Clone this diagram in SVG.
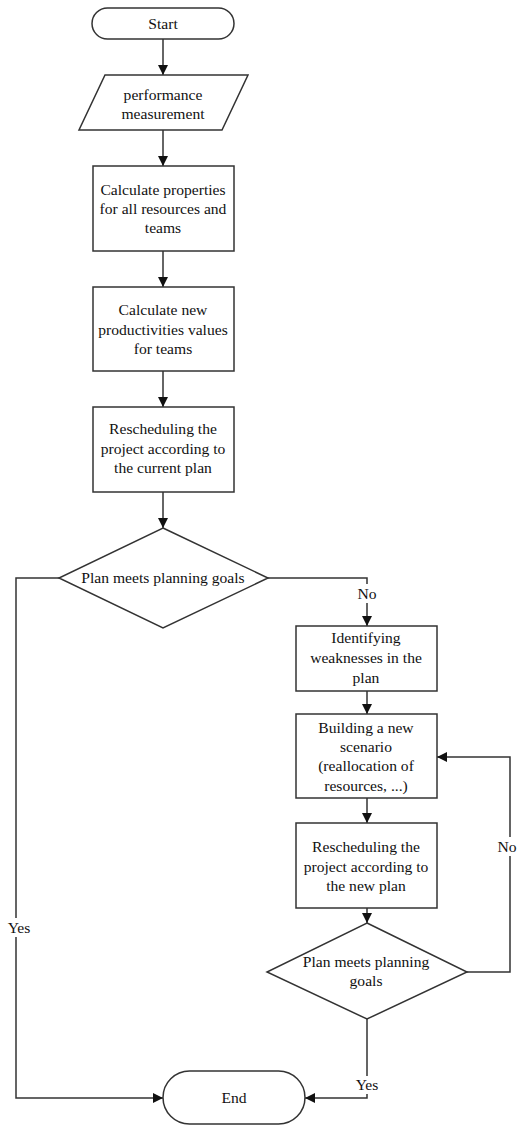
<svg xmlns="http://www.w3.org/2000/svg" width="519" height="1125" viewBox="0 0 519 1125">
<defs>
<marker id="arr" viewBox="0 0 10 10" refX="10" refY="5" markerWidth="10" markerHeight="10" markerUnits="userSpaceOnUse" orient="auto">
<path d="M0,0 L10,5 L0,10 Z" fill="#111"/>
</marker>
</defs>
<style>
.s{fill:#fff;stroke:#333;stroke-width:1.5}
.c{fill:none;stroke:#333;stroke-width:1.5}
text{font-size:15.6px;fill:#111;text-anchor:middle}
.lb{fill:#fff;stroke:none}
</style>
<rect width="519" height="1125" fill="#fff"/>
<g font-family="'Liberation Serif', 'DejaVu Serif', serif">
<g id="connectors">
<line class="c" x1="163" y1="39" x2="163" y2="75" marker-end="url(#arr)"/>
<line class="c" x1="163" y1="130" x2="163" y2="166" marker-end="url(#arr)"/>
<line class="c" x1="163" y1="251" x2="163" y2="287" marker-end="url(#arr)"/>
<line class="c" x1="163" y1="371" x2="163" y2="407" marker-end="url(#arr)"/>
<line class="c" x1="163" y1="492" x2="163" y2="528" marker-end="url(#arr)"/>
<polyline class="c" points="268,578 367,578 367,626" marker-end="url(#arr)"/>
<polyline class="c" points="59,578 16,578 16,1098 163,1098" marker-end="url(#arr)"/>
<line class="c" x1="367" y1="691" x2="367" y2="714" marker-end="url(#arr)"/>
<line class="c" x1="367" y1="798" x2="367" y2="823" marker-end="url(#arr)"/>
<line class="c" x1="367" y1="908" x2="367" y2="923" marker-end="url(#arr)"/>
<polyline class="c" points="467,972 510,972 510,757 437,757" marker-end="url(#arr)"/>
<polyline class="c" points="367,1019 367,1098 305,1098" marker-end="url(#arr)"/>
<rect class="lb" x="355" y="584" width="24" height="19"/>
<text x="367" y="599">No</text>
<rect class="lb" x="5" y="918" width="26" height="19"/>
<text x="19" y="933">Yes</text>
<rect class="lb" x="496" y="837" width="22" height="19"/>
<text x="507" y="852">No</text>
<rect class="lb" x="354" y="1076" width="26" height="18"/>
<text x="367" y="1090">Yes</text>
</g>
<g id="start">
<rect class="s" x="92" y="8" width="142" height="31" rx="15.5"/>
<text x="163" y="29">Start</text>
</g>
<g id="performance">
<polygon class="s" points="105,75 248,75 222,130 79,130"/>
<text x="163" y="100">performance</text>
<text x="163" y="119">measurement</text>
</g>
<g id="calc-props">
<rect class="s" x="93" y="166" width="141" height="85"/>
<text x="163" y="195">Calculate properties</text>
<text x="163" y="214">for all resources and</text>
<text x="163" y="233">teams</text>
</g>
<g id="calc-prod">
<rect class="s" x="93" y="287" width="141" height="84"/>
<text x="163" y="315">Calculate new</text>
<text x="163" y="335">productivities values</text>
<text x="163" y="354">for teams</text>
</g>
<g id="resched1">
<rect class="s" x="93" y="407" width="141" height="85"/>
<text x="163" y="434">Rescheduling the</text>
<text x="163" y="454">project according to</text>
<text x="163" y="473">the current plan</text>
</g>
<g id="decision1">
<polygon class="s" points="163,528 268,578 163,628 59,578"/>
<text x="163" y="583">Plan meets planning goals</text>
</g>
<g id="identify">
<rect class="s" x="296" y="626" width="141" height="65"/>
<text x="366" y="643">Identifying</text>
<text x="366" y="663">weaknesses in the</text>
<text x="366" y="683">plan</text>
</g>
<g id="building">
<rect class="s" x="296" y="714" width="141" height="84"/>
<text x="366" y="733">Building a new</text>
<text x="366" y="752">scenario</text>
<text x="366" y="771">(reallocation of</text>
<text x="366" y="791">resources, ...)</text>
</g>
<g id="resched2">
<rect class="s" x="296" y="823" width="141" height="85"/>
<text x="366" y="852">Rescheduling the</text>
<text x="366" y="872">project according to</text>
<text x="366" y="891">the new plan</text>
</g>
<g id="decision2">
<polygon class="s" points="367,923 467,972 367,1019 267,972"/>
<text x="366" y="967">Plan meets planning</text>
<text x="366" y="986">goals</text>
</g>
<g id="end">
<rect class="s" x="163" y="1071" width="142" height="53" rx="26.5"/>
<text x="234" y="1103">End</text>
</g>
</g>
</svg>
